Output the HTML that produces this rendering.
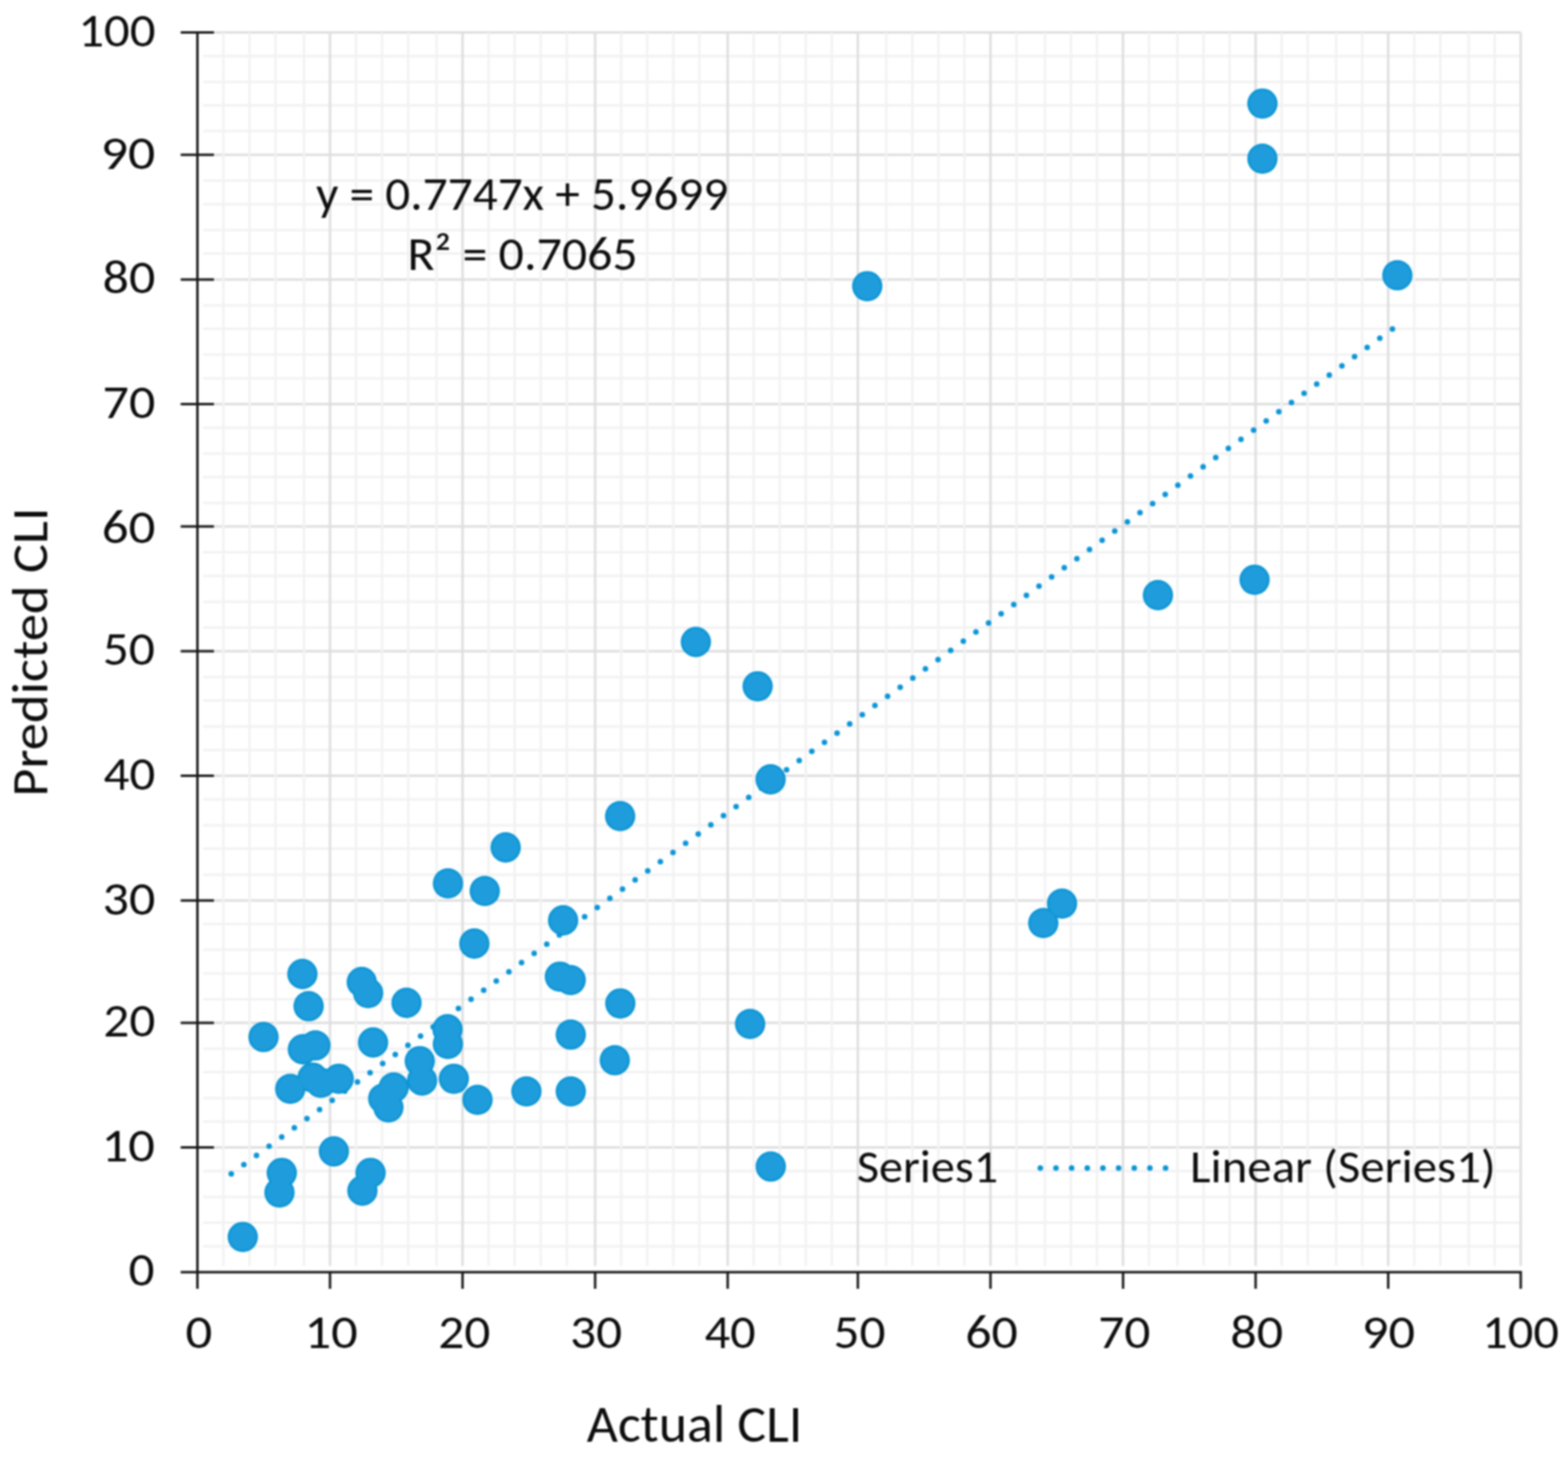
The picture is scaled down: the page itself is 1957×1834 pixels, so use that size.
<!DOCTYPE html>
<html><head><meta charset="utf-8"><title>Predicted vs Actual CLI</title>
<style>
html,body{margin:0;padding:0;background:#fff;}
body{width:1957px;height:1834px;overflow:hidden;}
svg{display:block;filter:blur(1px);}
text{font-family:"Carlito","Liberation Sans",sans-serif;font-size-adjust:cap-height 0.6416;fill:#0d0d0d;}
</style></head><body>
<svg width="1957" height="1834" viewBox="0 0 1957 1834">
<rect x="0" y="0" width="1957" height="1834" fill="#fff"/>
<path d="M253.5 69.9H1898.0M253.5 102.2H1898.0M253.5 131.5H1898.0M253.5 163.8H1898.0M253.5 225.5H1898.0M253.5 254.9H1898.0M253.5 287.2H1898.0M253.5 316.6H1898.0M253.5 381.2H1898.0M253.5 410.5H1898.0M253.5 442.8H1898.0M253.5 472.2H1898.0M253.5 533.9H1898.0M253.5 566.2H1898.0M253.5 595.6H1898.0M253.5 627.9H1898.0M253.5 689.5H1898.0M253.5 718.9H1898.0M253.5 751.2H1898.0M253.5 783.5H1898.0M253.5 845.2H1898.0M253.5 874.5H1898.0M253.5 906.9H1898.0M253.5 936.2H1898.0M253.5 997.9H1898.0M253.5 1030.2H1898.0M253.5 1059.6H1898.0M253.5 1091.9H1898.0M253.5 1153.5H1898.0M253.5 1185.8H1898.0M253.5 1215.2H1898.0M253.5 1247.5H1898.0M253.5 1309.2H1898.0M253.5 1338.6H1898.0M253.5 1370.9H1898.0M253.5 1400.2H1898.0M253.5 1461.9H1898.0M253.5 1494.2H1898.0M253.5 1526.5H1898.0M253.5 1555.9H1898.0" stroke="#f2f2f2" stroke-width="3.0" fill="none"/>
<path d="M253.5 40.5H1898.0M253.5 193.2H1898.0M253.5 348.9H1898.0M253.5 504.5H1898.0M253.5 657.2H1898.0M253.5 812.9H1898.0M253.5 968.5H1898.0M253.5 1124.2H1898.0M253.5 1276.9H1898.0M253.5 1432.5H1898.0" stroke="#dedede" stroke-width="3.0" fill="none"/>
<path d="M278.9 40.5V1580.5M311.4 40.5V1580.5M343.9 40.5V1580.5M379.4 40.5V1580.5M444.4 40.5V1580.5M476.9 40.5V1580.5M509.4 40.5V1580.5M544.8 40.5V1580.5M609.8 40.5V1580.5M642.3 40.5V1580.5M674.8 40.5V1580.5M707.3 40.5V1580.5M775.3 40.5V1580.5M807.8 40.5V1580.5M840.3 40.5V1580.5M872.8 40.5V1580.5M940.7 40.5V1580.5M973.2 40.5V1580.5M1005.7 40.5V1580.5M1038.2 40.5V1580.5M1106.2 40.5V1580.5M1138.7 40.5V1580.5M1171.2 40.5V1580.5M1203.7 40.5V1580.5M1268.7 40.5V1580.5M1304.1 40.5V1580.5M1336.6 40.5V1580.5M1369.1 40.5V1580.5M1434.1 40.5V1580.5M1469.6 40.5V1580.5M1502.1 40.5V1580.5M1534.6 40.5V1580.5M1599.6 40.5V1580.5M1632.1 40.5V1580.5M1667.6 40.5V1580.5M1700.1 40.5V1580.5M1765.1 40.5V1580.5M1797.6 40.5V1580.5M1833.0 40.5V1580.5M1865.5 40.5V1580.5" stroke="#f2f2f2" stroke-width="3.0" fill="none"/>
<path d="M411.9 40.5V1580.5M577.3 40.5V1580.5M742.8 40.5V1580.5M908.2 40.5V1580.5M1070.7 40.5V1580.5M1236.2 40.5V1580.5M1401.6 40.5V1580.5M1567.1 40.5V1580.5M1732.6 40.5V1580.5M1898.0 40.5V1580.5" stroke="#dedede" stroke-width="3.0" fill="none"/>
<path d="M288.6 1465.4L1738.2 410.6" stroke="#0a94d6" stroke-width="7" stroke-linecap="round" stroke-dasharray="0 19.482" fill="none"/>
<g fill="#0a95d5">
<circle cx="1575.6" cy="129.3" r="18.90"/>
<circle cx="1575.6" cy="198.1" r="18.90"/>
<circle cx="1744.0" cy="343.7" r="18.90"/>
<circle cx="1082.4" cy="357.3" r="18.90"/>
<circle cx="1445.2" cy="743.0" r="18.90"/>
<circle cx="1565.8" cy="723.8" r="18.90"/>
<circle cx="868.5" cy="801.5" r="18.90"/>
<circle cx="945.6" cy="856.8" r="18.90"/>
<circle cx="961.8" cy="973.0" r="18.90"/>
<circle cx="774.0" cy="1018.9" r="18.90"/>
<circle cx="631.1" cy="1058.0" r="18.90"/>
<circle cx="559.1" cy="1102.9" r="18.90"/>
<circle cx="605.0" cy="1112.4" r="18.90"/>
<circle cx="702.8" cy="1149.0" r="18.90"/>
<circle cx="1325.5" cy="1128.1" r="18.90"/>
<circle cx="1302.1" cy="1152.4" r="18.90"/>
<circle cx="592.0" cy="1178.0" r="18.90"/>
<circle cx="698.8" cy="1219.3" r="18.90"/>
<circle cx="712.3" cy="1223.6" r="18.90"/>
<circle cx="774.2" cy="1252.8" r="18.90"/>
<circle cx="936.2" cy="1278.4" r="18.90"/>
<circle cx="712.4" cy="1291.7" r="18.90"/>
<circle cx="767.3" cy="1323.7" r="18.90"/>
<circle cx="657.0" cy="1362.6" r="18.90"/>
<circle cx="712.4" cy="1362.6" r="18.90"/>
<circle cx="558.5" cy="1285.0" r="18.90"/>
<circle cx="559.0" cy="1303.4" r="18.90"/>
<circle cx="566.4" cy="1346.8" r="18.90"/>
<circle cx="596.0" cy="1373.1" r="18.90"/>
<circle cx="507.4" cy="1252.0" r="18.90"/>
<circle cx="451.5" cy="1226.0" r="18.90"/>
<circle cx="459.5" cy="1239.8" r="18.90"/>
<circle cx="465.6" cy="1301.5" r="18.90"/>
<circle cx="523.9" cy="1324.8" r="18.90"/>
<circle cx="526.8" cy="1349.0" r="18.90"/>
<circle cx="377.4" cy="1216.0" r="18.90"/>
<circle cx="385.2" cy="1256.2" r="18.90"/>
<circle cx="328.9" cy="1294.7" r="18.90"/>
<circle cx="393.6" cy="1305.2" r="18.90"/>
<circle cx="378.0" cy="1310.0" r="18.90"/>
<circle cx="362.3" cy="1359.4" r="18.90"/>
<circle cx="390.2" cy="1345.3" r="18.90"/>
<circle cx="400.4" cy="1351.8" r="18.90"/>
<circle cx="422.8" cy="1346.8" r="18.90"/>
<circle cx="491.4" cy="1357.6" r="18.90"/>
<circle cx="478.3" cy="1371.4" r="18.90"/>
<circle cx="484.8" cy="1382.6" r="18.90"/>
<circle cx="351.7" cy="1464.3" r="18.90"/>
<circle cx="348.8" cy="1488.8" r="18.90"/>
<circle cx="416.7" cy="1437.5" r="18.90"/>
<circle cx="462.5" cy="1464.3" r="18.90"/>
<circle cx="452.3" cy="1486.5" r="18.90"/>
<circle cx="303.0" cy="1544.3" r="18.90"/>
</g>
<g fill="#1e9cdb">
<circle cx="1575.6" cy="129.3" r="16.40"/>
<circle cx="1575.6" cy="198.1" r="16.40"/>
<circle cx="1744.0" cy="343.7" r="16.40"/>
<circle cx="1082.4" cy="357.3" r="16.40"/>
<circle cx="1445.2" cy="743.0" r="16.40"/>
<circle cx="1565.8" cy="723.8" r="16.40"/>
<circle cx="868.5" cy="801.5" r="16.40"/>
<circle cx="945.6" cy="856.8" r="16.40"/>
<circle cx="961.8" cy="973.0" r="16.40"/>
<circle cx="774.0" cy="1018.9" r="16.40"/>
<circle cx="631.1" cy="1058.0" r="16.40"/>
<circle cx="559.1" cy="1102.9" r="16.40"/>
<circle cx="605.0" cy="1112.4" r="16.40"/>
<circle cx="702.8" cy="1149.0" r="16.40"/>
<circle cx="1325.5" cy="1128.1" r="16.40"/>
<circle cx="1302.1" cy="1152.4" r="16.40"/>
<circle cx="592.0" cy="1178.0" r="16.40"/>
<circle cx="698.8" cy="1219.3" r="16.40"/>
<circle cx="712.3" cy="1223.6" r="16.40"/>
<circle cx="774.2" cy="1252.8" r="16.40"/>
<circle cx="936.2" cy="1278.4" r="16.40"/>
<circle cx="712.4" cy="1291.7" r="16.40"/>
<circle cx="767.3" cy="1323.7" r="16.40"/>
<circle cx="657.0" cy="1362.6" r="16.40"/>
<circle cx="712.4" cy="1362.6" r="16.40"/>
<circle cx="558.5" cy="1285.0" r="16.40"/>
<circle cx="559.0" cy="1303.4" r="16.40"/>
<circle cx="566.4" cy="1346.8" r="16.40"/>
<circle cx="596.0" cy="1373.1" r="16.40"/>
<circle cx="507.4" cy="1252.0" r="16.40"/>
<circle cx="451.5" cy="1226.0" r="16.40"/>
<circle cx="459.5" cy="1239.8" r="16.40"/>
<circle cx="465.6" cy="1301.5" r="16.40"/>
<circle cx="523.9" cy="1324.8" r="16.40"/>
<circle cx="526.8" cy="1349.0" r="16.40"/>
<circle cx="377.4" cy="1216.0" r="16.40"/>
<circle cx="385.2" cy="1256.2" r="16.40"/>
<circle cx="328.9" cy="1294.7" r="16.40"/>
<circle cx="393.6" cy="1305.2" r="16.40"/>
<circle cx="378.0" cy="1310.0" r="16.40"/>
<circle cx="362.3" cy="1359.4" r="16.40"/>
<circle cx="390.2" cy="1345.3" r="16.40"/>
<circle cx="400.4" cy="1351.8" r="16.40"/>
<circle cx="422.8" cy="1346.8" r="16.40"/>
<circle cx="491.4" cy="1357.6" r="16.40"/>
<circle cx="478.3" cy="1371.4" r="16.40"/>
<circle cx="484.8" cy="1382.6" r="16.40"/>
<circle cx="351.7" cy="1464.3" r="16.40"/>
<circle cx="348.8" cy="1488.8" r="16.40"/>
<circle cx="416.7" cy="1437.5" r="16.40"/>
<circle cx="462.5" cy="1464.3" r="16.40"/>
<circle cx="452.3" cy="1486.5" r="16.40"/>
<circle cx="303.0" cy="1544.3" r="16.40"/>
</g>
<path d="M246.4 39.0V1588.2M244.9 1588.2H1899.5M225.5 1588.2H246.4M225.5 1432.5H267.0M225.5 1276.9H267.0M225.5 1124.2H267.0M225.5 968.5H267.0M225.5 812.9H267.0M225.5 657.2H267.0M225.5 504.5H267.0M225.5 348.9H267.0M225.5 193.2H267.0M225.5 40.5H267.0M246.4 1588.2V1609.0M411.9 1588.2V1609.0M577.3 1588.2V1609.0M742.8 1588.2V1609.0M908.2 1588.2V1609.0M1070.7 1588.2V1609.0M1236.2 1588.2V1609.0M1401.7 1588.2V1609.0M1567.1 1588.2V1609.0M1732.6 1588.2V1609.0M1898.0 1588.2V1609.0" stroke="#161616" stroke-width="3" fill="none"/>
<circle cx="962.0" cy="1456.3" r="17.65" fill="#1e9cdb" stroke="#0a95d5" stroke-width="2.5"/>
<path d="M1298.4 1458.3H1454.9" stroke="#0a94d6" stroke-width="7" stroke-linecap="round" stroke-dasharray="0 19.54" fill="none"/>
<text x="160.57" y="1605.2" font-size="60.0" textLength="32.34" lengthAdjust="spacingAndGlyphs">0</text>
<text x="126.72" y="1449.85" font-size="60.0" textLength="66.68" lengthAdjust="spacingAndGlyphs">10</text>
<text x="129.11" y="1294.1" font-size="60.0" textLength="64.74" lengthAdjust="spacingAndGlyphs">20</text>
<text x="128.05" y="1141.75" font-size="60.0" textLength="65.82" lengthAdjust="spacingAndGlyphs">30</text>
<text x="129.24" y="985.85" font-size="60.0" textLength="64.6" lengthAdjust="spacingAndGlyphs">40</text>
<text x="128.29" y="829.9" font-size="60.0" textLength="65.17" lengthAdjust="spacingAndGlyphs">50</text>
<text x="127.0" y="677.7" font-size="60.0" textLength="66.91" lengthAdjust="spacingAndGlyphs">60</text>
<text x="128.05" y="521.8" font-size="60.0" textLength="65.82" lengthAdjust="spacingAndGlyphs">70</text>
<text x="128.05" y="366.05" font-size="60.0" textLength="65.82" lengthAdjust="spacingAndGlyphs">80</text>
<text x="125.82" y="210.65" font-size="60.0" textLength="68.13" lengthAdjust="spacingAndGlyphs">90</text>
<text x="97.66" y="58.0" font-size="60.0" textLength="96.4" lengthAdjust="spacingAndGlyphs">100</text>
<text x="231.4" y="1683.05" font-size="60.0" textLength="33.46" lengthAdjust="spacingAndGlyphs">0</text>
<text x="380.03" y="1683.05" font-size="60.0" textLength="66.57" lengthAdjust="spacingAndGlyphs">10</text>
<text x="547.0" y="1683.05" font-size="60.0" textLength="64.96" lengthAdjust="spacingAndGlyphs">20</text>
<text x="711.5" y="1683.05" font-size="60.0" textLength="64.96" lengthAdjust="spacingAndGlyphs">30</text>
<text x="879.45" y="1683.05" font-size="60.0" textLength="63.66" lengthAdjust="spacingAndGlyphs">40</text>
<text x="1040.3" y="1683.05" font-size="60.0" textLength="64.96" lengthAdjust="spacingAndGlyphs">50</text>
<text x="1204.76" y="1683.05" font-size="60.0" textLength="65.61" lengthAdjust="spacingAndGlyphs">60</text>
<text x="1370.69" y="1683.05" font-size="60.0" textLength="65.06" lengthAdjust="spacingAndGlyphs">70</text>
<text x="1535.54" y="1683.05" font-size="60.0" textLength="66.04" lengthAdjust="spacingAndGlyphs">80</text>
<text x="1699.84" y="1683.05" font-size="60.0" textLength="66.25" lengthAdjust="spacingAndGlyphs">90</text>
<text x="1849.68" y="1683.05" font-size="60.0" textLength="96.07" lengthAdjust="spacingAndGlyphs">100</text>
<text x="732.28" y="1800.2" font-size="65.88" textLength="269.12" lengthAdjust="spacingAndGlyphs">Actual CLI</text>
<text x="394.47" y="262.4" font-size="59.7" textLength="514.55" lengthAdjust="spacingAndGlyphs">y = 0.7747x + 5.9699</text>
<text x="508.48" y="337.0" font-size="59.1" textLength="287.42" lengthAdjust="spacingAndGlyphs">R² = 0.7065</text>
<text x="1069.44" y="1475.7" font-size="58.47" textLength="176.28" lengthAdjust="spacingAndGlyphs">Series1</text>
<text x="1485.23" y="1475.7" font-size="58.47" textLength="381.58" lengthAdjust="spacingAndGlyphs">Linear (Series1)</text>
<text transform="rotate(-90)" x="-994.7" y="59.2" font-size="63.08" textLength="361.27" lengthAdjust="spacingAndGlyphs">Predicted CLI</text>
</svg>
</body></html>
